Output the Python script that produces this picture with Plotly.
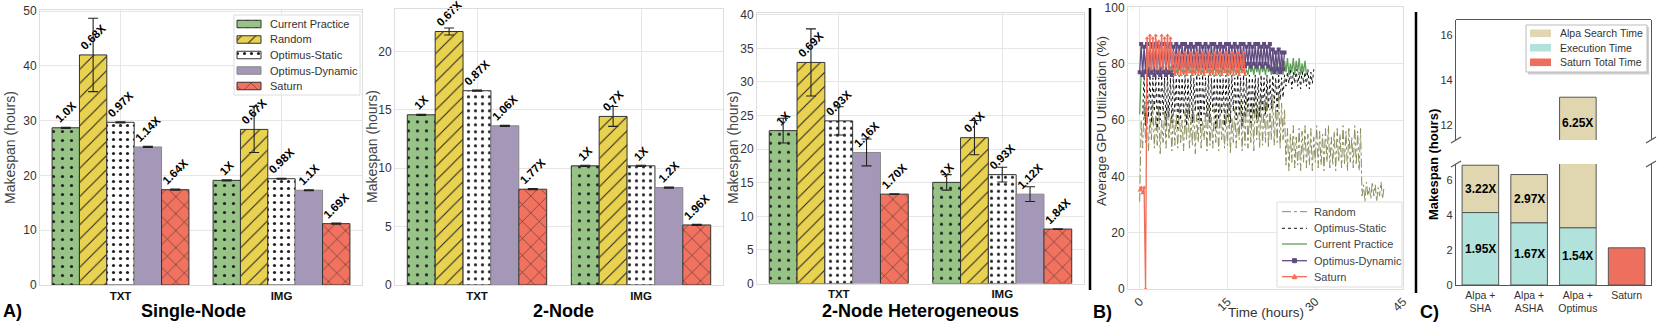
import plotly.graph_objects as go

W, H = 1661, 323
FONT = "Liberation Sans, Arial, sans-serif"

# ---------------- panel A: makespan (hours), rows = methods, cols = [TXT, IMG]
WORKLOADS = ["TXT", "IMG"]
METHODS = ["Current Practice", "Random", "Optimus-Static", "Optimus-Dynamic", "Saturn"]

single_node = [[28.7, 19.1], [42.0, 28.4], [29.7, 19.4], [25.2, 17.3], [17.4, 11.2]]
single_node_err = [[0.1, 0.1], [6.7, 4.2], [0.1, 0.1], [0.1, 0.1], [0.1, 0.1]]
single_node_txt = [["1.0X", "1X"], ["0.68X", "0.67X"], ["0.97X", "0.98X"], ["1.14X", "1.1X"], ["1.64X", "1.69X"]]

two_node = [[14.57, 10.2], [21.7, 14.43], [16.63, 10.2], [13.63, 8.34], [8.2, 5.14]]
two_node_err = [[0.05, 0.05], [0.3, 0.85], [0.05, 0.05], [0.05, 0.05], [0.05, 0.05]]
two_node_txt = [["1X", "1X"], ["0.67X", "0.7X"], ["0.87X", "1X"], ["1.06X", "1.2X"], ["1.77X", "1.96X"]]

hetero = [[22.75, 15.05], [32.9, 21.7], [24.2, 16.2], [19.5, 13.3], [13.3, 8.1]]
hetero_err = [[1.85, 1.15], [5.0, 2.55], [2.1, 1.1], [2.0, 1.1], [0.05, 0.05]]
hetero_txt = [["1X", "1X"], ["0.69X", "0.7X"], ["0.93X", "0.93X"], ["1.16X", "1.12X"], ["1.70X", "1.84X"]]

# ---------------- panel B: GPU utilization (%), one sample every 15 min from *_t0 (hours)
STEP = 0.25
random_t0 = 0.0
random_util = [31, 60, 50, 66,
               52, 64, 49, 61, 53, 66, 50, 62, 51, 65, 48, 60, 52, 63, 50, 66, 53, 61, 49, 64,
               51, 62, 50, 65, 52, 60, 49, 63, 53, 66, 50, 61, 51, 64, 48, 62, 52, 65, 50, 60,
               53, 63, 49, 66, 51, 61, 50, 64, 52, 62, 49, 65, 53, 60, 50, 63, 51, 66, 48, 61,
               52, 64, 50, 62, 53, 67, 49, 63, 51, 68, 50, 64, 52, 66, 49, 72, 53, 65, 50, 69,
               51, 66, 52, 71, 50, 64, 53, 68, 51, 65, 52, 70, 50, 66, 53, 64,
               44, 57, 42, 55, 45, 58, 43, 54, 44, 57, 42, 56, 45, 58, 43, 55, 44, 57, 42, 54,
               45, 58, 43, 56, 44, 55, 42, 57, 45, 58, 43, 54, 44, 56, 42, 57, 45, 55, 43, 58,
               44, 56, 42, 57, 45, 54, 43, 58, 44, 56, 42, 57,
               33, 37, 31, 38, 33, 36, 32, 38, 33, 37, 31, 36, 33, 38, 32, 36]
static_t0 = 0.5
static_util = [62, 76, 58, 75, 61, 76, 59, 75, 63, 76, 57, 75, 60, 76, 62, 75, 58, 76, 61, 75,
               59, 76, 63, 75, 57, 76, 60, 75, 62, 76, 58, 75, 61, 76, 59, 75, 63, 76, 60, 75,
               58, 76, 62, 75, 61, 76, 59, 75, 63, 76, 57, 75, 60, 76, 62, 75, 58, 76, 61, 75,
               59, 76, 63, 75, 60, 76, 62, 75, 58, 76, 61, 75, 63, 76, 59, 75, 62, 76, 60, 75,
               61, 76, 63, 75, 62, 76, 64, 75,
               64, 76, 66, 75, 63, 76, 67, 75, 68, 76,
               72, 77, 73, 78, 71, 77, 73, 78, 72, 77, 71, 78, 73, 77, 72, 78, 71, 77, 73, 78]
current_t0 = 0.0
current_util = [62, 77,
                76, 78, 77, 78, 76, 79, 76, 78, 77, 78, 76, 78, 76, 79, 77, 78, 76, 78, 76, 79,
                77, 78, 76, 78, 76, 79, 77, 78, 76, 78, 76, 79, 77, 78, 76, 78, 76, 79, 77, 78,
                76, 78, 76, 79, 77, 78, 76, 78, 76, 79, 77, 78, 76, 78, 76, 79, 77, 78, 76, 78,
                76, 79, 77, 78, 76, 78, 76, 79, 77, 78, 76, 78,
                76, 80, 77, 79, 76, 80, 77, 79, 76, 80, 77, 79, 76, 80, 77, 79, 76, 79, 77, 80,
                76, 79, 77, 80,
                76, 81, 77, 82, 76, 80, 77, 82, 76, 81, 77, 82, 76, 80, 77, 81, 76]
dynamic_t0 = 0.0
dynamic_util = [77, 87, 76, 86, 77, 87, 76, 87, 77, 86, 76, 87, 77, 86, 76, 87, 77, 87, 76, 86,
                77, 87, 76, 86,
                79, 87, 80, 86, 79, 87, 80, 87, 79, 86, 80, 87, 79, 86, 80, 87, 79, 87, 80, 86,
                79, 87, 80, 86, 79, 87, 80, 87, 79, 86, 80, 87, 79, 86, 80, 87, 79, 87, 80, 86,
                79, 87, 80, 86, 79, 87, 80, 87, 79, 86, 80, 87, 79, 86, 80, 87, 79, 87, 80, 86,
                79, 87, 80, 86, 79, 87,
                78, 85, 77, 84, 78, 85, 77, 84, 78, 84]
saturn_t0 = 0.0
saturn_util = [35, 36, 34, 36, 0,
               89, 79, 90, 78, 89, 79, 90, 78, 88, 79, 90, 78, 89, 79, 90, 78, 89, 78,
               84, 76, 83, 77, 84, 76, 83, 77, 84, 76, 83, 77, 84, 76, 83, 77, 84, 76, 83, 77, 84,
               76, 83, 77, 84, 76, 83, 77, 84, 76, 83, 77, 84, 76, 83, 77, 84, 76, 83, 77, 84, 76,
               83, 77, 84, 76, 83, 77, 84, 76]

# ---------------- panel C: makespan (hours)
c_configs = ["Alpa +<br>SHA", "Alpa +<br>ASHA", "Alpa +<br>Optimus"]
c_exec = [4.13, 3.54, 3.26]
c_total = [6.83, 6.30, 13.25]
c_exec_txt = ["1.95X", "1.67X", "1.54X"]
c_total_txt = ["3.22X", "2.97X", "6.25X"]
saturn_label = "Saturn"
saturn_total = 2.12


def dx(left, right):
    return [left / W, right / W]


def dy(top, bottom):
    return [1 - bottom / H, 1 - top / H]


def px(x, y):
    return x / W, 1 - y / H


def paper_rect(x0, y0, x1, y1, fill, line, width=1):
    a, b = px(x0, y1)
    c, d = px(x1, y0)
    return dict(type="rect", xref="paper", yref="paper", x0=a, y0=b, x1=c, y1=d, layer="above",
                fillcolor=fill, line=dict(color=line, width=width))


def paper_line(x0, y0, x1, y1, **line):
    a, b = px(x0, y0)
    c, d = px(x1, y1)
    return dict(type="line", xref="paper", yref="paper", x0=a, y0=b, x1=c, y1=d, layer="above",
                line=line)


BAR_STYLE = {
    "Current Practice": dict(color="#97c486", shape=".", size=9, solidity=0.1, edge="#333"),
    "Random": dict(color="#e9d24f", shape="/", size=10, solidity=0.1, edge="#333"),
    "Optimus-Static": dict(color="#ffffff", shape=".", size=7, solidity=0.16, edge="#333"),
    "Optimus-Dynamic": dict(color="#a597b8", shape="", size=8, solidity=0.2, edge="#888"),
    "Saturn": dict(color="#f0725f", shape="x", size=12, solidity=0.08, edge="#333"),
}


def bar_marker(name):
    st = BAR_STYLE[name]
    return dict(color=st["color"], line=dict(color=st["edge"], width=1),
                pattern=dict(shape=st["shape"], fgcolor="#222", bgcolor=st["color"],
                             size=st["size"], solidity=st["solidity"], fillmode="replace"))


fig = go.Figure()

panels = [
    (single_node, single_node_err, single_node_txt, "x", "y"),
    (two_node, two_node_err, two_node_txt, "x2", "y2"),
    (hetero, hetero_err, hetero_txt, "x3", "y3"),
]
for vals, errs, labels, xa, ya in panels:
    for m, name in enumerate(METHODS):
        fig.add_trace(go.Bar(
            x=WORKLOADS, y=vals[m], name=name, xaxis=xa, yaxis=ya, marker=bar_marker(name),
            error_y=dict(type="data", array=errs[m], color="#222", thickness=1.1, width=5),
            text=labels[m], textposition="outside", textangle=-45,
            textfont=dict(family=FONT, size=11.5, color="black", weight="bold"),
            cliponaxis=False, constraintext="none",
        ))

# panel B lines
LINE_STYLE = {
    "Random": (dict(color="#8c8d5d", width=1, dash="dashdot"), None),
    "Optimus-Static": (dict(color="#111111", width=1, dash="dot"), None),
    "Current Practice": (dict(color="#5f9f58", width=1.3), None),
    "Optimus-Dynamic": (dict(color="#5f4b80", width=1.3), "square"),
    "Saturn": (dict(color="#f26c58", width=1.3), "triangle-up"),
}
line_series = [("Random", random_t0, random_util), ("Optimus-Static", static_t0, static_util),
               ("Current Practice", current_t0, current_util),
               ("Optimus-Dynamic", dynamic_t0, dynamic_util), ("Saturn", saturn_t0, saturn_util)]
for name, t0, util in line_series:
    line, symbol = LINE_STYLE[name]
    hours = [t0 + STEP * i for i in range(len(util))]
    kw = dict(mode="lines")
    if symbol:
        kw = dict(mode="lines+markers", marker=dict(symbol=symbol, size=4, color=line["color"]))
    fig.add_trace(go.Scatter(x=hours, y=util, name=name, line=line, xaxis="x4", yaxis="y4", **kw))

# panel C bars, drawn on both halves of the broken axis
C_COLORS = {"Alpa Search Time": "#e0d7b1", "Execution Time": "#b2e2dc", "Saturn Total Time": "#ef6f5e"}
c_search = [t - e for t, e in zip(c_total, c_exec)]
for ya in ("y5", "y6"):
    common = dict(xaxis="x5", yaxis=ya, offsetgroup="c", width=0.75)
    fig.add_trace(go.Bar(x=c_configs, y=c_search, base=c_exec, name="Alpa Search Time",
                         marker=dict(color=C_COLORS["Alpa Search Time"], line=dict(color="#555", width=1)),
                         **common))
    fig.add_trace(go.Bar(x=c_configs, y=c_exec, name="Execution Time",
                         marker=dict(color=C_COLORS["Execution Time"], line=dict(color="#555", width=1)),
                         **common))
    fig.add_trace(go.Bar(x=[saturn_label], y=[saturn_total], name="Saturn Total Time",
                         marker=dict(color=C_COLORS["Saturn Total Time"], line=dict(color="#555", width=1)),
                         **common))

C_LOW = [0, 6.9]
C_HIGH = [11.35, 16.7]

annotations = []
shapes = []
label_font = dict(family=FONT, size=12, color="black", weight="bold")
for cfg, e, t, et, tt in zip(c_configs, c_exec, c_total, c_exec_txt, c_total_txt):
    annotations.append(dict(x=cfg, y=e / 2, xref="x5", yref="y5", text=et, showarrow=False,
                            font=label_font))
    mid = (e + t) / 2
    if mid < C_LOW[1]:
        annotations.append(dict(x=cfg, y=mid, xref="x5", yref="y5", text=tt, showarrow=False,
                                font=label_font))
    else:
        annotations.append(dict(x=cfg, y=(C_HIGH[0] + t) / 2 - 0.2, xref="x5", yref="y6", text=tt,
                                showarrow=False, font=label_font))

# ---- legend of panel A: its own small subplot (x7/y7 in pixel units) so the swatches keep their hatching
LEG_A = (234, 15, 360, 95)
leg_a_rows = [24, 39.5, 55, 70.5, 86]
fig.add_trace(go.Bar(y=[(LEG_A[1] + LEG_A[3]) / 2], x=[LEG_A[2] - LEG_A[0]], base=[LEG_A[0]],
                     width=LEG_A[3] - LEG_A[1], orientation="h", marker=dict(color="white", line=dict(width=0)),
                     xaxis="x7", yaxis="y7", offsetgroup="leg", hoverinfo="skip"))
for name, ry in zip(METHODS, leg_a_rows):
    fig.add_trace(go.Bar(y=[ry], x=[24], base=[237], width=7.5, orientation="h",
                         marker=bar_marker(name), xaxis="x7", yaxis="y7", offsetgroup="leg",
                         hoverinfo="skip"))
    annotations.append(dict(x=268, y=ry, xref="x7", yref="y7", text=name, showarrow=False,
                            xanchor="left", yanchor="middle",
                            font=dict(family=FONT, size=11, color="#333")))
shapes.append(paper_rect(*LEG_A, fill="rgba(0,0,0,0)", line="#dddddd"))

# ---- legend of panel B
shapes.append(paper_rect(1277, 202, 1402, 287, fill="white", line="#dddddd"))
for name, ry in zip(["Random", "Optimus-Static", "Current Practice", "Optimus-Dynamic", "Saturn"],
                    [211.7, 228.3, 244, 260.7, 276.7]):
    line, symbol = LINE_STYLE[name]
    shapes.append(paper_line(1282, ry, 1307, ry, **line))
    if symbol == "square":
        shapes.append(paper_rect(1292.5, ry - 2, 1296.5, ry + 2, fill=line["color"], line=line["color"]))
    elif symbol == "triangle-up":
        a, b = px(1292.2, ry + 2)
        c, d = px(1296.8, ry + 2)
        e, f = px(1294.5, ry - 2.5)
        shapes.append(dict(type="path", xref="paper", yref="paper", layer="above",
                           path=f"M {a} {b} L {c} {d} L {e} {f} Z", fillcolor=line["color"],
                           line=dict(color=line["color"], width=1)))
    xp, yp = px(1312, ry)
    annotations.append(dict(x=xp, y=yp, xref="paper", yref="paper", text=name, showarrow=False,
                            xanchor="left", yanchor="middle",
                            font=dict(family=FONT, size=11, color="#444")))

# ---- legend of panel C (with its drop shadow)
shapes.append(paper_rect(1528, 27, 1649, 74.5, fill="#cfcfcf", line="#cfcfcf", width=0))
shapes.append(paper_rect(1526, 25, 1647, 72, fill="white", line="#bbbbbb"))
for name, ry in zip(["Alpa Search Time", "Execution Time", "Saturn Total Time"], [33.3, 47.7, 62.3]):
    shapes.append(paper_rect(1530, ry - 3.8, 1551, ry + 3.8, fill=C_COLORS[name], line=C_COLORS[name], width=0))
    xp, yp = px(1558, ry)
    annotations.append(dict(x=xp, y=yp, xref="paper", yref="paper", text=name, showarrow=False,
                            xanchor="left", yanchor="middle",
                            font=dict(family=FONT, size=10.5, color="#333")))

big = dict(family=FONT, size=18, color="black", weight="bold")
for text, x, y, anchor in [("A)", 1, 311, "left"), ("Single-Node", 193, 311, "center"),
                           ("2-Node", 563, 311, "center"),
                           ("2-Node Heterogeneous", 921, 311, "center"),
                           ("B)", 1091, 312, "left"), ("C)", 1418, 312, "left")]:
    xp, yp = px(x, y)
    annotations.append(dict(x=xp, y=yp, xref="paper", yref="paper", text=text, showarrow=False,
                            xanchor=anchor, yanchor="middle", font=big))
side_font = dict(family=FONT, size=14, color="#444")
for text, x, y, angle, font in [
        ("Makespan (hours)", 10, 148, -90, side_font),
        ("Makespan (hours)", 372, 147, -90, side_font),
        ("Makespan (hours)", 733, 148, -90, side_font),
        ("Makespan (hours)", 1433, 165, -90, dict(family=FONT, size=13, color="black", weight="bold")),
        ("Average GPU Utilization (%)", 1101, 121, -90, dict(family=FONT, size=13.5, color="#333")),
        ("Time (hours)", 1266, 312, 0, dict(family=FONT, size=13.5, color="#333"))]:
    xp, yp = px(x, y)
    annotations.append(dict(x=xp, y=yp, xref="paper", yref="paper", text=text, textangle=angle,
                            showarrow=False, xanchor="center", yanchor="middle", font=font))

# separators, top spine of upper C half and break marks
for x, y0, y1 in [(1090, 8, 290), (1416, 12, 293)]:
    shapes.append(paper_line(x, y0, x, y1, color="black", width=2.5))
shapes.append(paper_line(1456, 19.5, 1651, 19.5, color="#555", width=1.2))
for x in (1456, 1651):
    for y in (140, 164):
        shapes.append(paper_line(x - 5, y + 3, x + 5, y - 3, color="#555", width=1.2))

GRID = "#e6e6e6"
FRAME = "#dddddd"
tick = dict(family=FONT, size=12, color="#333")
cat_tick = dict(family=FONT, size=11.5, color="#111", weight="bold")


def a_x(dom, anchor):
    return dict(domain=dom, anchor=anchor, type="category", showgrid=True, gridcolor=GRID,
                showline=True, linecolor=FRAME, mirror=True, ticks="", tickfont=cat_tick,
                automargin=False)


def a_y(dom, anchor, rng, dtick):
    return dict(domain=dom, anchor=anchor, range=rng, dtick=dtick, showgrid=True, gridcolor=GRID,
                zeroline=False, showline=True, linecolor=FRAME, mirror=True, ticks="",
                tickfont=tick, automargin=False)


fig.update_layout(
    template="none",
    width=W, height=H, autosize=False, showlegend=False,
    margin=dict(l=0, r=0, t=0, b=0, pad=0),
    paper_bgcolor="white", plot_bgcolor="white",
    font=dict(family=FONT, color="#333"),
    barmode="group", bargap=0.15, bargroupgap=0,
    xaxis=a_x(dx(40, 362), "y"), yaxis=a_y(dy(10, 285), "x", [0, 50.2], 10),
    xaxis2=a_x(dx(395, 723), "y2"), yaxis2=a_y(dy(9.3, 285), "x2", [0, 23.6], 5),
    xaxis3=a_x(dx(757, 1084), "y3"), yaxis3=a_y(dy(12.7, 283.5), "x3", [0, 40.3], 5),
    xaxis4=dict(domain=dx(1128, 1403), anchor="y4", range=[-2, 45], tickvals=[0, 15, 30, 45],
                tickangle=-45, showgrid=True, gridcolor=GRID, zeroline=False, showline=True,
                linecolor=FRAME, mirror=True, ticks="", tickfont=tick, automargin=False),
    yaxis4=dict(domain=dy(6.5, 289), anchor="x4", range=[0, 100.3], dtick=20, showgrid=True,
                gridcolor=GRID, zeroline=False, showline=True, linecolor=FRAME, mirror=True,
                ticks="", tickfont=tick, automargin=False),
    xaxis5=dict(domain=dx(1456, 1651), anchor="y5", type="category",
                categoryorder="array", categoryarray=c_configs + [saturn_label],
                showgrid=False, showline=True, linecolor="#555", linewidth=1.2, ticks="",
                tickfont=dict(family=FONT, size=10.5, color="#333"), automargin=False),
    yaxis5=dict(domain=dy(164, 285), anchor="x5", range=C_LOW, tickvals=[0, 2, 4, 6],
                showgrid=False, zeroline=False, showline=True, mirror=True, linecolor="#555",
                linewidth=1.2, ticks="", tickfont=dict(family=FONT, size=11, color="#333"),
                automargin=False),
    yaxis6=dict(domain=dy(19.5, 140), anchor="x5", range=C_HIGH, tickvals=[12, 14, 16],
                showgrid=False, zeroline=False, showline=True, mirror=True, linecolor="#555",
                linewidth=1.2, ticks="", tickfont=dict(family=FONT, size=11, color="#333"),
                automargin=False),
    xaxis7=dict(domain=dx(LEG_A[0], LEG_A[2]), anchor="y7", range=[LEG_A[0], LEG_A[2]],
                visible=False, showgrid=False, zeroline=False, automargin=False),
    yaxis7=dict(domain=dy(LEG_A[1], LEG_A[3]), anchor="x7", range=[LEG_A[3], LEG_A[1]],
                visible=False, showgrid=False, zeroline=False, automargin=False),
    annotations=annotations,
    shapes=shapes,
)

# the page body has a default 8px margin; drop it so the figure fills the window exactly
fig.write_html("out.html", config={"displayModeBar": False},
               post_script="document.body.style.margin = '0';")
